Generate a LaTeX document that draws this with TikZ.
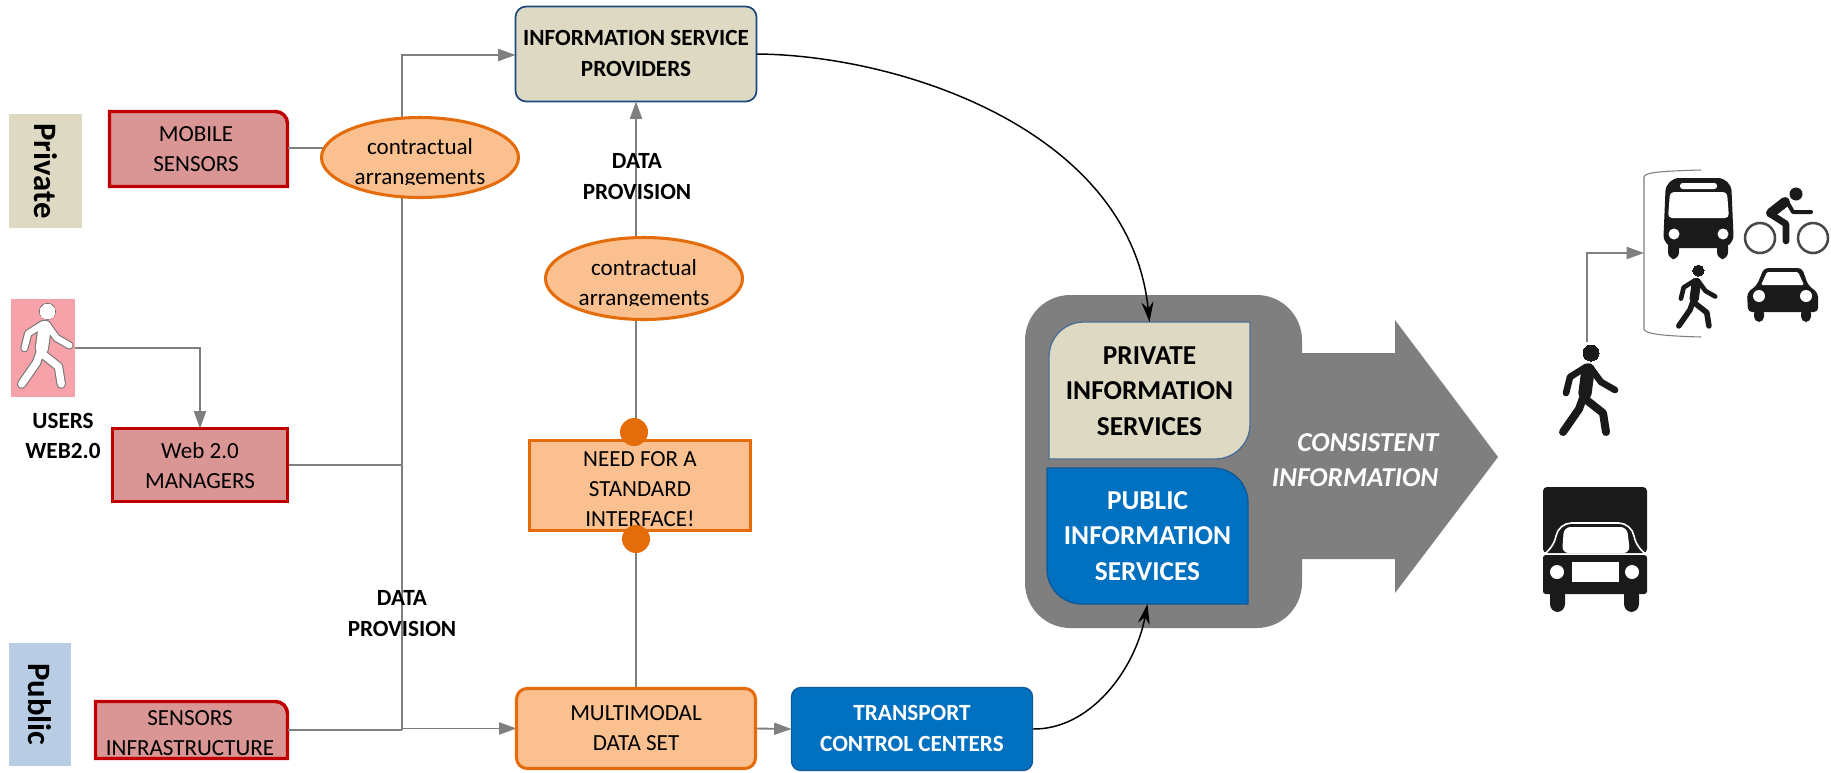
\documentclass[tikz,border=0pt]{standalone}
\usepackage{xcolor}
\usepackage{fontspec}
\setmainfont{Carlito}
\usetikzlibrary{arrows.meta,shapes.geometric,backgrounds}

\definecolor{sandfill}{HTML}{DDD9C3}
\definecolor{skyfill}{HTML}{B8CCE4}
\definecolor{redline}{HTML}{C00000}
\definecolor{redfill}{HTML}{D99694}
\definecolor{orangeline}{HTML}{E46C0A}
\definecolor{orangefill}{HTML}{FAC090}
\definecolor{navyline}{HTML}{1F497D}
\definecolor{bluefill}{HTML}{0070C0}
\definecolor{greyfill}{HTML}{7F7F7F}
\definecolor{pinkfill}{HTML}{F7A1A9}
\definecolor{iconblack}{HTML}{1A1A1A}

\tikzset{
    boxsize/.style 2 args={minimum width=#1*0.75pt,minimum height=#2*0.75pt,inner sep=0pt,outer sep=0pt},
    txt/.style={align=center,font=\fontsize{17.3}{22.5}\selectfont},
    boldtxt/.style={align=center,font=\fontsize{17.4}{23}\selectfont\bfseries},
    bigtxt/.style={align=center,font=\fontsize{20.5}{26.5}\selectfont\bfseries},
    sidetxt/.style={font=\fontsize{24.5}{26}\selectfont\bfseries,rotate=-90},
    redbox/.style={draw=redline,fill=redfill,line width=2.6pt},
    orangebox/.style={draw=orangeline,fill=orangefill,line width=2.3pt},
    sandbox/.style={draw=navyline,fill=sandfill,line width=1.3pt,rounded corners=8pt},
    bluebox/.style={draw=navyline!60!bluefill,fill=bluefill,line width=1pt},
    link/.style={draw=greyfill,line width=1.4pt},
    flow/.style={link,-{Triangle[length=13pt,width=9pt]}},
    curveflow/.style={black,line width=1.1pt,-{Stealth[length=15pt,width=9pt]}},
    dot/.style={circle,fill=orangeline,inner sep=0pt,minimum size=21pt}
}

\newcommand{\walkerpic}[5]{
    \begin{scope}[shift={(#1,#2)},x=#3*0.75pt,y=-#3*0.75pt,line cap=round,line join=round,draw=#4,fill=#4]
        \filldraw[line width=#5] (32,8) circle (8);
        \draw[line width=#3*10pt+#5] (29,25) -- (26,48);
        \draw[line width=#3*5pt+#5] (27,22) -- (11,32) -- (7,48);
        \draw[line width=#3*5pt+#5] (31,22) -- (42,37) -- (56,45);
        \draw[line width=#3*6pt+#5] (24,53) -- (20,64) -- (4,87);
        \draw[line width=#3*6pt+#5] (25,53) -- (44,68) -- (47,87);
    \end{scope}
}

\begin{document}
\begin{tikzpicture}[x=0.75pt,y=-0.75pt]
    \useasboundingbox (0,0) rectangle (1831,772);

    \node[fill=sandfill,boxsize={73}{114}] (privatetag) at (45.5,171) {};
    \node[sidetxt] (privatetagtext) at (45.5,171) {Private};
    \node[fill=skyfill,boxsize={62}{123}] (publictag) at (40,704.5) {};
    \node[sidetxt] (publictagtext) at (40,704.5) {Public};

    \node[boxsize={178}{75}] (mobile) at (198.5,149) {};
    \node[txt] (mobiletext) at (196,149) {MOBILE\\SENSORS};
    \node[redbox,boxsize={175}{73}] (web) at (200,465) {};
    \node[txt] (webtext) at (200,465.5) {Web 2.0\\MANAGERS};
    \node[boxsize={192}{57}] (sensors) at (191.5,730) {};

    \node[fill=pinkfill,boxsize={64}{98}] (usericon) at (43,348) {};
    \walkerpic{18}{304}{0.92}{black!55}{1.6pt}
    \walkerpic{18}{304}{0.92}{white}{0pt}
    \node[boldtxt] (userstext) at (63,436) {USERS\\WEB2.0};

    \node[sandbox,boxsize={241}{95}] (info) at (636,54) {};
    \node[boldtxt] (infotext) at (636,53.5) {INFORMATION SERVICE\\PROVIDERS};
    \node[boldtxt] (provisionup) at (637,176.5) {DATA\\PROVISION};
    \node[boldtxt] (provisiondown) at (402,613.5) {DATA\\PROVISION};

    \node[ellipse,orangebox,boxsize={197}{80}] (contractone) at (420,157.5) {};
    \node[ellipse,orangebox,boxsize={197}{82}] (contracttwo) at (644,278.5) {};
    \begin{scope}
        \clip (300,100) rectangle (800,184) (500,240) rectangle (800,305);
        \node[txt] (contractonetext) at (420,163) {contractual\\arrangements};
        \node[txt] (contracttwotext) at (644,284) {contractual\\arrangements};
    \end{scope}
    \begin{scope}
        \clip (90,700) rectangle (295,757);
        \node[txt] (sensorstext) at (190,733.5) {SENSORS\\INFRASTRUCTURE};
    \end{scope}

    \node[orangebox,boxsize={221}{90}] (need) at (640,485.5) {};
    \node[txt] (needtext) at (640,489) {NEED FOR A\\STANDARD\\INTERFACE!};
    \node[dot] (dotup) at (634,432) {};
    \node[dot] (dotlow) at (636,539) {};

    \node[orangebox,rounded corners=8pt,boxsize={239}{80}] (multi) at (636,728.5) {};
    \node[txt] (multitext) at (636,728) {MULTIMODAL\\DATA SET};
    \node[bluebox,rounded corners=7pt,boxsize={241}{83}] (control) at (912,729) {};
    \node[boldtxt,white] (controltext) at (912,728.5) {TRANSPORT\\CONTROL CENTERS};

    \node[boxsize={201}{137}] (privateinfo) at (1149.5,390.5) {};
    \node[bigtxt] (privatetext) at (1149.5,391) {PRIVATE\\INFORMATION\\SERVICES};
    \node[boxsize={201}{136}] (publicinfo) at (1147.5,536) {};
    \node[bigtxt,white] (publictext) at (1147.5,536) {PUBLIC\\INFORMATION\\SERVICES};
    \node[bigtxt,white,align=right,anchor=east,font=\fontsize{20.5}{26.5}\selectfont\bfseries\itshape] (consistent) at (1443,460) {CONSISTENT\\INFORMATION};

    \begin{scope}[on background layer]
        \fill[white] (0,0) rectangle (1831,772);
        \fill[greyfill] (1280,353) -- (1395,353) -- (1395,320) -- (1498,457) -- (1395,593) -- (1395,559) -- (1280,559) -- cycle;
        \fill[greyfill,rounded corners=34pt] (1025,295) rectangle (1302,628);

        \draw[redbox] (mobile.south west) -- (mobile.north west) [rounded corners=9pt] -- (mobile.north east) [sharp corners] -- (mobile.south east) -- cycle;
        \draw[redbox] (sensors.south west) -- (sensors.north west) [rounded corners=9pt] -- (sensors.north east) [sharp corners] -- (sensors.south east) -- cycle;

        \draw[draw=navyline!80!white,fill=sandfill,line width=1pt] (privateinfo.north east) [rounded corners=26pt] -- (privateinfo.south east) [sharp corners] -- (privateinfo.south west) [rounded corners=26pt] -- (privateinfo.north west) [sharp corners] -- cycle;
        \draw[bluebox] (publicinfo.north west) [rounded corners=26pt] -- (publicinfo.north east) [sharp corners] -- (publicinfo.south east) [rounded corners=26pt] -- (publicinfo.south west) [sharp corners] -- cycle;

        \coordinate (trunktop) at (402,55);
        \coordinate (trunkjoin) at (402,730);
        \draw[flow] (trunkjoin) -- (trunktop) -- (info.west |- trunktop);
        \draw[link] (mobile.east |- 0,148) -- (contractone.center |- 0,148);
        \draw[link] (web.east) -- (web.east -| trunkjoin);
        \draw[link] (sensors.east) -- (trunkjoin);
        \draw[flow] (trunkjoin |- multi.west) -- (multi.west);
        \draw[flow] (usericon.east) -| (web.north);
        \draw[link] (multi.north) -- (dotlow);
        \draw[link] (dotup.center -| info.south) -- (contracttwo.center -| info.south);
        \draw[flow] (contracttwo.center -| info.south) -- (info.south);
        \draw[flow] (multi.east) -- (control.west);
    \end{scope}

    \draw[curveflow] (info.east) .. controls (900,55) and (1130,130) .. (privateinfo.north);
    \draw[curveflow] (control.east) .. controls (1090,730) and (1135,670) .. (publicinfo.south);

    % walker with the modes
    \coordinate (walkertop) at (1587,342);
    \coordinate (modesleft) at (1644,253);
    \draw[flow] (walkertop) |- (modesleft);
    \draw[draw=greyfill,line width=0.8pt] (1701,170) .. controls (1665,171) and (1644,172) .. (1644,177) -- (1644,329) .. controls (1644,334) and (1665,336) .. (1701,337);
    \walkerpic{1559}{345}{1}{iconblack}{0pt}
    \walkerpic{1676}{265}{0.7}{iconblack}{0pt}

    % bus
    \begin{scope}[shift={(1663,178)}]
        \fill[iconblack,rounded corners=5pt] (5,62) rectangle (16,81) (54,62) rectangle (65,81);
        \fill[iconblack,rounded corners=10pt] (3,0) -- (68,0) -- (71,70) -- (0,70) -- cycle;
        \fill[white,rounded corners=2pt] (17,5) rectangle (54,11);
        \fill[white,rounded corners=3pt] (7,14) -- (64,14) -- (66,40) -- (5,40) -- cycle;
        \fill[white] (11,56) circle (5.5) (60,56) circle (5.5);
    \end{scope}

    % cyclist
    \begin{scope}[shift={(1743,188)},line cap=round,line join=round]
        \draw[iconblack!80,line width=1.9pt] (17,50) circle (15) (70,50) circle (15);
        \fill[iconblack] (53,6) circle (6.5);
        \draw[iconblack,line width=7.5pt] (28,25) -- (42,14);
        \draw[iconblack,line width=3pt] (43,12) -- (50,24) -- (68,24);
        \draw[iconblack,line width=5pt] (29,27) -- (43,36) -- (43,53);
    \end{scope}

    % car
    \begin{scope}[shift={(1747,268)}]
        \fill[iconblack,rounded corners=4pt] (7,40) rectangle (17,54) (54,40) rectangle (64,54);
        \fill[iconblack,rounded corners=3pt] (1,44) -- (0,25) -- (10,17) -- (17,0) -- (55,0) -- (61,17) -- (71,25) -- (71,44) -- cycle;
        \fill[white,rounded corners=1pt] (14,17) -- (20,4) -- (51,4) -- (57,17) -- cycle;
        \fill[white] (12,28) circle (6) (59,28) circle (6);
    \end{scope}

    % truck
    \begin{scope}[shift={(1543,487)}]
        \fill[iconblack,rounded corners=3pt] (0,0) rectangle (104,66);
        \fill[iconblack,rounded corners=6pt] (7,100) rectangle (22,125) (81,100) rectangle (96,125);
        \fill[iconblack,rounded corners=2pt] (0,68) rectangle (104,107);
        \draw[white,line width=1.2pt,rounded corners=10pt] (0,68) -- (11,62) -- (15,36) -- (89,36) -- (93,62) -- (104,68);
        \fill[white,rounded corners=5pt] (19,66) -- (21,40) -- (84,40) -- (87,66) -- cycle;
        \fill[white] (29,75) rectangle (76,95);
        \fill[white] (14,85) circle (7) (89,85) circle (7);
    \end{scope}
\end{tikzpicture}
\end{document}
